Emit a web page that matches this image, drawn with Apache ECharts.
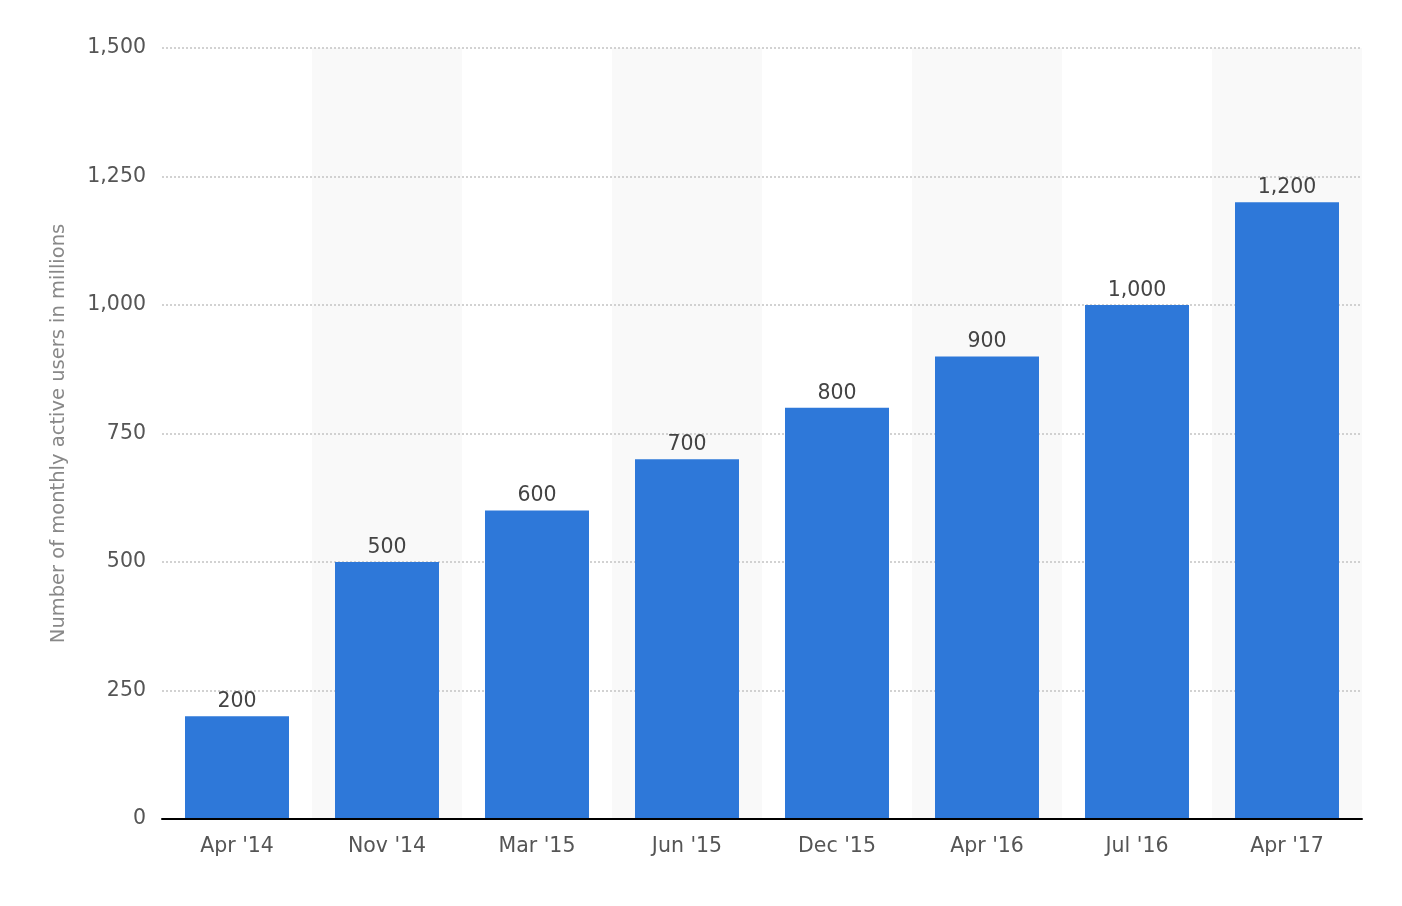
<!DOCTYPE html>
<html>
<head>
<meta charset="utf-8">
<script src="https://cdn.jsdelivr.net/npm/echarts@6/dist/echarts.min.js"></script>
<style>
  html, body { margin: 0; padding: 0; background: #fff; }
  #chart { width: 1402px; height: 906px; }
</style>
</head>
<body>
<div id="chart"></div>
<script>
var categories = ["Apr '14", "Nov '14", "Mar '15", "Jun '15", "Dec '15", "Apr '16", "Jul '16", "Apr '17"];
var users = [200, 500, 600, 700, 800, 900, 1000, 1200];
var yTicks = [0, 250, 500, 750, 1000, 1250, 1500];

var chart = echarts.init(document.getElementById('chart'));

var fmt = function (v) {
  return String(v).replace(/\B(?=(\d{3})+(?!\d))/g, ',');
};

var option = {
  animation: false,
  textStyle: { fontFamily: 'DejaVu Sans' },
  grid: { left: 162, right: 40, top: 48, bottom: 87 },
  xAxis: [{
    type: 'category',
    data: categories,
    z: 0,
    axisLine: { show: false },
    axisTick: { show: false },
    axisLabel: { color: '#555', fontSize: 20.5, margin: 17, fontFamily: 'DejaVu Sans' },
    splitArea: { show: true, areaStyle: { color: ['rgba(255,255,255,0)', '#f9f9f9'] } }
  }, {
    // baseline drawn on top of the zero grid line
    type: 'category',
    data: categories,
    position: 'bottom',
    z: 3,
    axisLine: { show: true, lineStyle: { color: '#000', width: 2 } },
    axisTick: { show: false },
    axisLabel: { show: false },
    splitLine: { show: false }
  }],
  yAxis: {
    type: 'value',
    z: 1,
    min: yTicks[0],
    max: yTicks[yTicks.length - 1],
    interval: 250,
    name: 'Number of monthly active users in millions',
    nameLocation: 'middle',
    nameGap: 93,
    nameTextStyle: { color: '#888', fontSize: 19.5, fontFamily: 'DejaVu Sans' },
    axisLine: { show: false },
    axisTick: { show: false },
    axisLabel: { color: '#555', fontSize: 20.5, margin: 16, formatter: fmt, fontFamily: 'DejaVu Sans' },
    splitLine: { show: true, lineStyle: { color: '#c4c4c4', type: [2, 2], width: 1.5 } }
  },
  series: [{
    type: 'bar',
    data: users,
    barWidth: 104,
    z: 2,
    itemStyle: { color: '#2e78d9' },
    label: {
      show: true,
      position: 'top',
      distance: 4,
      color: '#444',
      fontSize: 20.5,
      fontFamily: 'DejaVu Sans',
      formatter: function (p) { return fmt(p.value); }
    }
  }]
};

chart.setOption(option);
</script>
</body>
</html>
